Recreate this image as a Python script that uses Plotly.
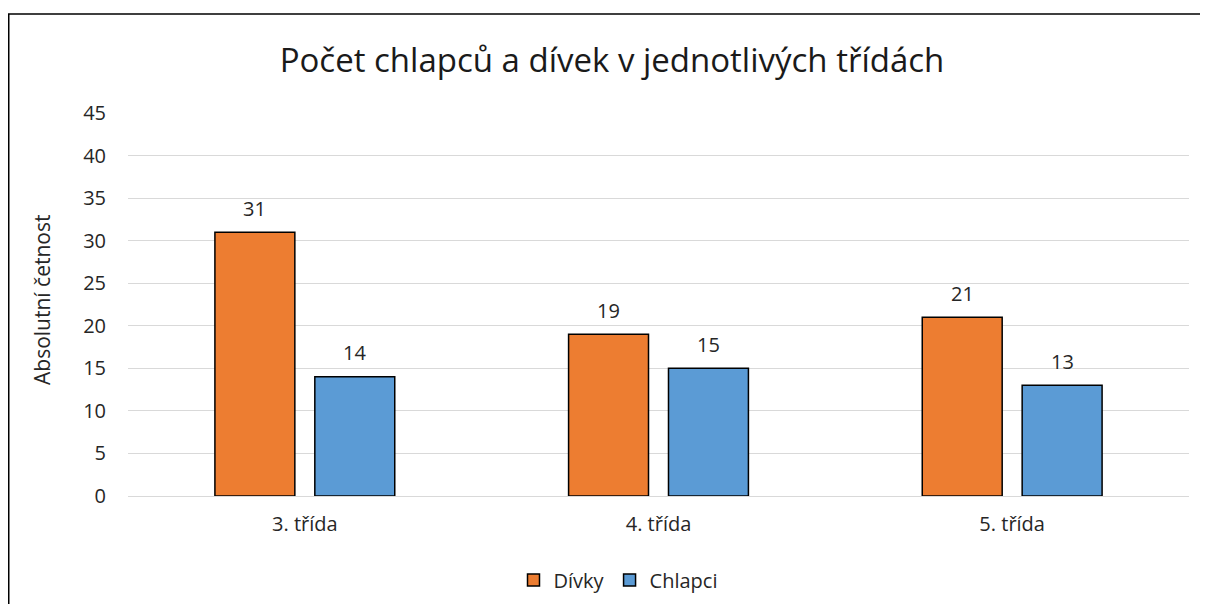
import plotly.graph_objects as go

categories = ["3. třída", "4. třída", "5. třída"]
divky = [31, 19, 21]
chlapci = [14, 15, 13]
y_ticks = [0, 5, 10, 15, 20, 25, 30, 35, 40, 45]

FONT = "Open Sans, Calibri, sans-serif"

# page has an 8px body margin: work in figure coordinates = page - 8
OFF = 8
W, H = 1192, 596
L = 128 - OFF
T = 113 - OFF
plot_right = 1189 - OFF
zero_y = 496 - OFF
R = W - plot_right
B = H - zero_y
pw = W - L - R
ph = H - T - B


def px_x(page_x):
    return (page_x - OFF - L) / pw


def px_y(page_y):
    return (zero_y - (page_y - OFF)) / ph


fig = go.Figure()
fig.add_trace(go.Bar(
    name="Dívky", x=categories, y=divky,
    marker=dict(color="#ED7D31", line=dict(color="black", width=1.5)),
))
fig.add_trace(go.Bar(
    name="Chlapci", x=categories, y=chlapci,
    marker=dict(color="#5B9BD5", line=dict(color="black", width=1.5)),
))

annotations = []
for series, shift in ((divky, -50), (chlapci, 50)):
    for cat, val in zip(categories, series):
        annotations.append(dict(
            x=cat, y=val, xref="x", yref="y", text=str(val),
            showarrow=False, xshift=shift, yshift=24,
            xanchor="center", yanchor="middle",
            font=dict(size=20, color="#262626", family=FONT)))

annotations.append(dict(text="Absolutní četnost", textangle=-90,
                        x=px_x(42), y=px_y(300),
                        xref="paper", yref="paper", showarrow=False,
                        xanchor="center", yanchor="middle",
                        font=dict(size=21, family=FONT, color="#262626")))

fig.update_layout(
    width=W, height=H,
    margin=dict(l=L, r=R, t=T, b=B, autoexpand=False),
    paper_bgcolor="white", plot_bgcolor="white",
    barmode="group", bargap=0.435, bargroupgap=0.2,
    font=dict(family=FONT, color="#262626", size=20),
    title=dict(text="Počet chlapců a dívek v jednotlivých třídách",
               x=px_x(612), xref="paper", xanchor="center",
               y=1 - (60 - OFF) / H, yref="container", yanchor="middle",
               font=dict(size=33, color="#1a1a1a", family=FONT)),
    legend=dict(orientation="h", x=px_x(618), xanchor="center",
                xref="paper", yref="container",
                y=1 - (580 - OFF) / H, yanchor="middle",
                font=dict(size=20, family=FONT), traceorder="normal",
                itemwidth=30),
    showlegend=True,
    xaxis=dict(showgrid=False, showline=False, ticks="",
               tickfont=dict(size=20), ticklabelstandoff=14,
               automargin=False),
    yaxis=dict(range=[0, 45], tickvals=y_ticks, showgrid=True,
               gridcolor="#D9D9D9", gridwidth=1.3, zeroline=True,
               zerolinecolor="#D9D9D9", zerolinewidth=1.3, showline=False,
               ticks="", tickfont=dict(size=20), ticklabelstandoff=21,
               automargin=False),
    annotations=annotations,
    shapes=[dict(type="rect", xref="paper", yref="paper",
                 x0=(0.75 - L) / pw, y0=-0.6, x1=1.3,
                 y1=px_y(14),
                 line=dict(color="black", width=1.5), layer="above")],
)

fig.write_html("out.html")
